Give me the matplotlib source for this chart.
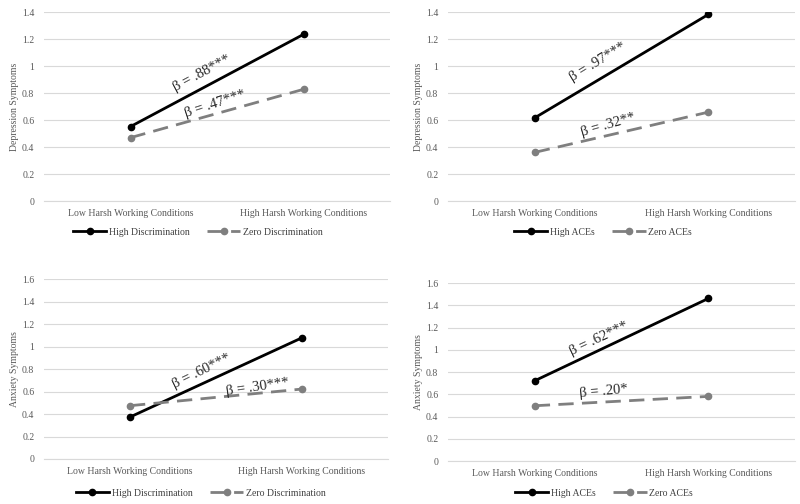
import matplotlib
matplotlib.use('Agg')
import matplotlib.pyplot as plt

plt.rcParams['font.family'] = ['Liberation Serif', 'DejaVu Serif']

# 数据
categories = ['Low Harsh Working Conditions', 'High Harsh Working Conditions']

dep_disc_high = [0.552, 1.235]
dep_disc_zero = [0.47, 0.828]
dep_ace_high = [0.617, 1.383]
dep_ace_zero = [0.361, 0.659]
anx_disc_high = [0.373, 1.078]
anx_disc_zero = [0.474, 0.622]
anx_ace_high = [0.722, 1.462]
anx_ace_zero = [0.497, 0.581]

disc_labels = ['High Discrimination', 'Zero Discrimination']
ace_labels = ['High ACEs', 'Zero ACEs']

dep_ticks = [0, 0.2, 0.4, 0.6, 0.8, 1, 1.2, 1.4]
anx_ticks = [0, 0.2, 0.4, 0.6, 0.8, 1, 1.2, 1.4, 1.6]
tick_text_dep = ['0', '0.2', '0.4', '0.6', '0.8', '1', '1.2', '1.4']
tick_text_anx = ['0', '0.2', '0.4', '0.6', '0.8', '1', '1.2', '1.4', '1.6']

GRID = '#d9d9d9'
TXT = '#595959'

fig = plt.figure(figsize=(8, 5.04), dpi=100)

panels = [
    # rect, high, zero, labels, ylabel, ticks, ticktext, notes, legend anchor
    ([0.055, 0.601, 0.4325, 0.375], dep_disc_high, dep_disc_zero, disc_labels,
     'Depression Symptoms', dep_ticks, tick_text_dep,
     [('β = .88***', 0.455, 0.677, 28), ('β = .47***', 0.494, 0.513, 18)],
     (0.445, -0.165)),
    ([0.56, 0.601, 0.434, 0.375], dep_ace_high, dep_ace_zero, ace_labels,
     'Depression Symptoms', dep_ticks, tick_text_dep,
     [('β = .97***', 0.432, 0.735, 31), ('β = .32**', 0.461, 0.405, 16)],
     (0.447, -0.165)),
    ([0.055, 0.0893, 0.43, 0.357], anx_disc_high, anx_disc_zero, disc_labels,
     'Anxiety Symptoms', anx_ticks, tick_text_anx,
     [('β = .60***', 0.459, 0.489, 26), ('β = .30***', 0.622, 0.40, 8)],
     (0.456, -0.19)),
    ([0.56, 0.0853, 0.434, 0.353], anx_ace_high, anx_ace_zero, ace_labels,
     'Anxiety Symptoms', anx_ticks, tick_text_anx,
     [('β = .62***', 0.435, 0.685, 25), ('β = .20*', 0.447, 0.393, 5)],
     (0.45, -0.18)),
]

for rect, high, zero, labels, ylabel, ticks, ticktext, notes, leg_pos in panels:
    ax = fig.add_axes(rect)
    x = range(len(categories))
    ax.plot(x, high, '-', color='black', linewidth=2.0, marker='o',
            markersize=4.5, label=labels[0], zorder=3)
    ax.plot(x, zero, '--', color='#7f7f7f', linewidth=2.0, marker='o',
            markersize=4.5, dashes=(5.5, 3), label=labels[1], zorder=3)

    ax.set_xlim(-0.5, 1.5)
    ax.set_ylim(0, ticks[-1])
    ax.set_yticks(ticks)
    ax.set_yticklabels(ticktext)
    ax.set_xticks(list(x))
    ax.set_xticklabels(categories)
    ax.tick_params(axis='both', length=0, labelsize=7, colors=TXT)
    ax.tick_params(axis='y', pad=7)
    ax.tick_params(axis='x', pad=6)
    ax.grid(axis='y', color=GRID, linewidth=0.8)
    ax.set_axisbelow(True)
    for s in ['top', 'right', 'left']:
        ax.spines[s].set_visible(False)
    ax.spines['bottom'].set_color(GRID)
    ax.spines['bottom'].set_linewidth(0.8)
    ax.set_ylabel(ylabel, fontsize=7, color=TXT, labelpad=2)

    for txt, fx, fy, rot in notes:
        ax.text(fx, fy, txt, transform=ax.transAxes, fontsize=10.5,
                color='#262626', rotation=rot, rotation_mode='anchor',
                ha='center', va='center')

    leg = ax.legend(loc='center', bbox_to_anchor=leg_pos, ncol=2, frameon=False,
                    fontsize=7, handlelength=3.4, handletextpad=0.3,
                    columnspacing=1.8)
    for t in leg.get_texts():
        t.set_color('#404040')

fig.savefig('out.png', dpi=100)
